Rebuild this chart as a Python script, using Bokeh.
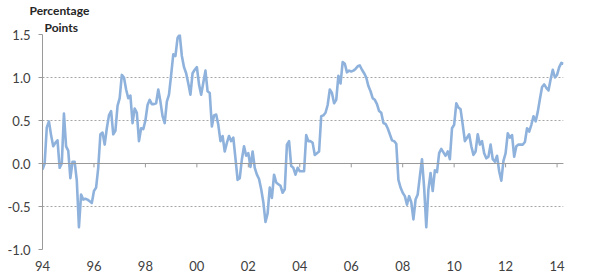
import numpy as np
from bokeh.plotting import figure
from bokeh.models import Range1d, FixedTicker, Span, Title, ColumnDataSource
from bokeh.embed import file_html
from bokeh.resources import INLINE

# Monthly values, Jan 1994 .. Apr 2014 (percentage points)
v1994 = [-0.07, 0.0, 0.42, 0.49, 0.33, 0.2, 0.24, 0.27, -0.05, 0.0, 0.58, 0.2]
v1995 = [0.15, -0.17, 0.02, 0.02, -0.2, -0.74, -0.36, -0.42, -0.41, -0.42, -0.44, -0.46]
v1996 = [-0.32, -0.28, -0.05, 0.34, 0.36, 0.22, 0.41, 0.56, 0.61, 0.34, 0.38, 0.67]
v1997 = [0.76, 1.03, 1.0, 0.86, 0.76, 0.79, 0.47, 0.64, 0.59, 0.26, 0.41, 0.4]
v1998 = [0.5, 0.68, 0.74, 0.69, 0.69, 0.7, 0.86, 0.72, 0.55, 0.47, 0.72, 0.8]
v1999 = [1.03, 1.27, 1.25, 1.46, 1.5, 1.25, 1.12, 1.05, 0.93, 0.8, 1.05, 1.09]
v2000 = [1.12, 0.92, 0.8, 0.94, 1.08, 0.84, 0.82, 0.43, 0.56, 0.57, 0.45, 0.26]
v2001 = [0.32, 0.14, 0.24, 0.32, 0.26, 0.3, 0.06, -0.19, -0.17, 0.05, 0.2, 0.09]
v2002 = [0.12, -0.04, 0.14, -0.05, -0.13, -0.18, -0.3, -0.45, -0.68, -0.58, -0.28, -0.4]
v2003 = [-0.13, -0.22, -0.24, -0.26, -0.34, -0.3, 0.22, 0.26, -0.03, -0.05, -0.13, -0.05]
v2004 = [-0.09, -0.09, -0.09, 0.33, 0.26, 0.26, 0.24, 0.1, 0.12, 0.14, 0.55, 0.56]
v2005 = [0.59, 0.68, 0.86, 0.82, 0.7, 0.74, 1.02, 0.93, 1.18, 1.16, 1.06, 1.08]
v2006 = [1.07, 1.08, 1.1, 1.13, 1.14, 1.09, 1.05, 1.0, 0.9, 0.84, 0.76, 0.74]
v2007 = [0.69, 0.61, 0.59, 0.47, 0.46, 0.41, 0.34, 0.27, 0.26, 0.23, -0.19, -0.28]
v2008 = [-0.34, -0.38, -0.48, -0.38, -0.45, -0.65, -0.42, -0.36, -0.15, 0.05, -0.28, -0.74]
v2009 = [-0.3, -0.11, -0.32, -0.08, -0.1, 0.12, 0.17, 0.13, 0.09, 0.14, 0.05, 0.41]
v2010 = [0.45, 0.7, 0.65, 0.63, 0.45, 0.26, 0.3, 0.34, 0.2, 0.1, 0.14, 0.34]
v2011 = [0.22, 0.26, 0.12, 0.06, 0.08, 0.22, 0.05, 0.02, 0.09, -0.09, -0.2, 0.03]
v2012 = [0.12, 0.35, 0.3, 0.33, 0.08, 0.2, 0.22, 0.22, 0.22, 0.25, 0.41, 0.37]
v2013 = [0.45, 0.55, 0.49, 0.6, 0.75, 0.89, 0.92, 0.88, 0.85, 0.98, 1.09, 1.0]
v2014 = [1.03, 1.12, 1.17, 1.16]

start_year = 1994
tick_years = [1994, 1996, 1998, 2000, 2002, 2004, 2006, 2008, 2010, 2012, 2014]
tick_labels = ["94", "96", "98", "00", "02", "04", "06", "08", "10", "12", "14"]
y_ticks = [-1.0, -0.5, 0.0, 0.5, 1.0, 1.5]
y_labels = ["-1.0", "-0.5", "0.0", "0.5", "1.0", "1.5"]

values = (v1994 + v1995 + v1996 + v1997 + v1998 + v1999 + v2000 + v2001 + v2002
          + v2003 + v2004 + v2005 + v2006 + v2007 + v2008 + v2009 + v2010
          + v2011 + v2012 + v2013 + v2014)
t = start_year + np.arange(len(values)) / 12.0
src = ColumnDataSource(dict(t=t, v=values))

FONT = "Lato"
GRID = "#a6a6a6"
AXIS = "#9a9a9a"
TXT = "#404040"

p = figure(width=589, height=280, output_backend="svg", toolbar_location=None,
           x_range=Range1d(start_year, t[-1]), y_range=Range1d(-1.0, 1.5),
           min_border_left=42, min_border_right=26, min_border_top=34,
           min_border_bottom=31)
p.outline_line_color = None
p.background_fill_color = "white"
p.border_fill_color = "white"

# grid
p.xgrid.grid_line_color = None
p.ygrid.ticker = FixedTicker(ticks=y_ticks)
p.ygrid.grid_line_color = GRID
p.ygrid.grid_line_dash = "2 2"
p.ygrid.grid_line_width = 1

# y axis
p.yaxis.ticker = FixedTicker(ticks=y_ticks)
p.yaxis.major_label_overrides = {k: s for k, s in zip(y_ticks, y_labels)}
p.yaxis.axis_line_color = AXIS
p.yaxis.major_tick_line_color = AXIS
p.yaxis.major_tick_out = 4
p.yaxis.major_tick_in = 0
p.yaxis.minor_tick_line_color = None
p.yaxis.major_label_text_font = FONT
p.yaxis.major_label_text_font_size = "13px"
p.yaxis.major_label_text_color = TXT
p.yaxis.major_label_standoff = 8

# x axis (labels only, at bottom)
p.xaxis.ticker = FixedTicker(ticks=tick_years)
p.xaxis.major_label_overrides = {k: s for k, s in zip(tick_years, tick_labels)}
p.xaxis.axis_line_color = None
p.xaxis.major_tick_line_color = None
p.xaxis.major_tick_out = 0
p.xaxis.major_tick_in = 0
p.xaxis.minor_tick_line_color = None
p.xaxis.major_label_text_font = FONT
p.xaxis.major_label_text_font_size = "13px"
p.xaxis.major_label_text_color = TXT
p.xaxis.major_label_standoff = 11

# zero line with small tick marks (Excel-style axis crossing at 0)
p.add_layout(Span(location=0, dimension="width", line_color=AXIS, line_width=1))
p.segment(x0=tick_years, y0=[0] * len(tick_years), x1=tick_years,
          y1=[-0.045] * len(tick_years), line_color=AXIS, line_width=1)

# series
p.line("t", "v", source=src, line_color="#8eb2dc", line_width=2.6,
       line_join="round")

# axis title (two stacked titles; first added sits closest to the plot)
p.add_layout(Title(text="Points", align="left", offset=2, text_font=FONT,
                   text_font_size="12px", text_font_style="bold",
                   text_color="#262626", standoff=0), "above")
p.add_layout(Title(text="Percentage", align="left", offset=-13, text_font=FONT,
                   text_font_size="12px", text_font_style="bold",
                   text_color="#262626", standoff=0), "above")

open("out.html", "w").write(file_html(p, INLINE))
